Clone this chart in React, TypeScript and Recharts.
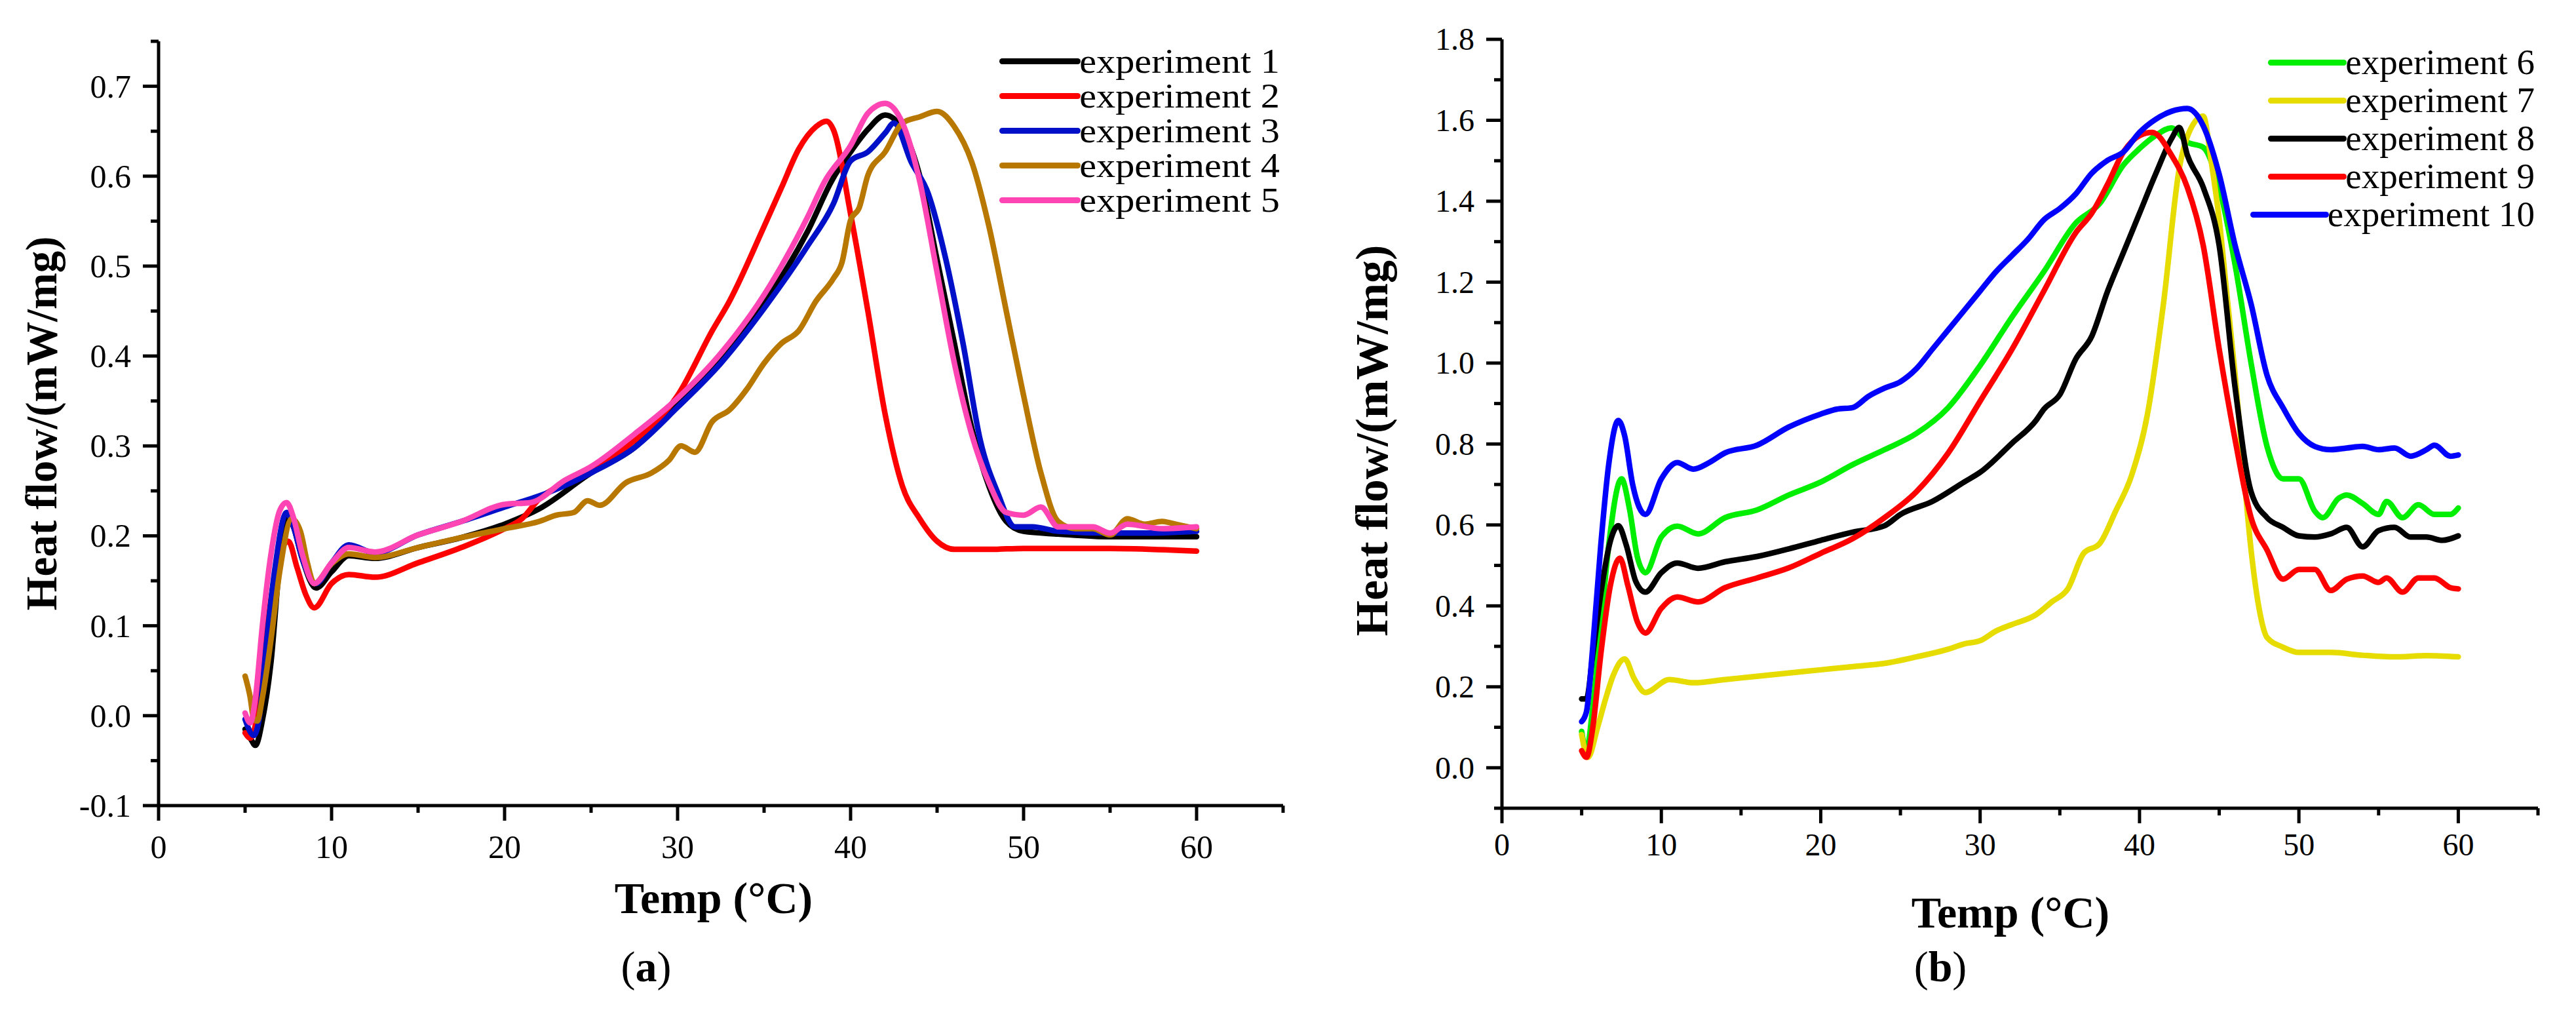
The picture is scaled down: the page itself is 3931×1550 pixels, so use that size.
import React from "react";
import { LineChart, Line, XAxis, YAxis } from "recharts";

const FONT = '"Liberation Serif", "Times New Roman", serif';

// shared temperature axis
const tempTicks = [0, 5, 10, 15, 20, 25, 30, 35, 40, 45, 50, 55, 60, 65];
const flowTicksA = [-0.1, -0.05, 0, 0.05, 0.1, 0.15, 0.2, 0.25, 0.3, 0.35, 0.4, 0.45, 0.5, 0.55, 0.6, 0.65, 0.7, 0.75];
const flowTicksB = [-0.1, 0, 0.1, 0.2, 0.3, 0.4, 0.5, 0.6, 0.7, 0.8, 0.9, 1.0, 1.1, 1.2, 1.3, 1.4, 1.5, 1.6, 1.7, 1.8];

// ---- panel (a) ----
const exp1Temp = [5, 5.3, 5.6, 6, 6.5, 7, 7.4, 7.8, 8.3, 9.1, 10, 11, 12.5, 15, 17.5, 20, 22, 25, 27.5, 30, 32.5, 35, 37.5, 39, 40, 41, 42, 43, 44, 45, 46, 47, 48, 49, 50, 52, 55, 60];
const exp1Flow = [-0.015, -0.025, -0.033, -0.005, 0.06, 0.17, 0.222, 0.21, 0.175, 0.142, 0.16, 0.178, 0.175, 0.187, 0.198, 0.213, 0.23, 0.27, 0.298, 0.349, 0.396, 0.458, 0.538, 0.598, 0.627, 0.652, 0.668, 0.652, 0.6, 0.507, 0.414, 0.32, 0.255, 0.216, 0.205, 0.202, 0.199, 0.199];

const exp2Temp = [5, 5.3, 5.6, 6, 6.5, 7, 7.5, 8, 8.5, 9, 10, 11, 12.5, 15, 17.5, 20, 21, 22, 24, 25, 27.5, 30, 32, 33, 35, 36, 37, 38, 38.6, 39, 40, 41, 42, 43, 44, 45, 46, 48, 50, 55, 60];
const exp2Flow = [-0.019, -0.025, -0.01, 0.05, 0.13, 0.18, 0.194, 0.165, 0.135, 0.12, 0.147, 0.157, 0.154, 0.17, 0.187, 0.208, 0.219, 0.241, 0.262, 0.273, 0.306, 0.356, 0.428, 0.461, 0.544, 0.587, 0.63, 0.655, 0.661, 0.652, 0.558, 0.45, 0.335, 0.255, 0.219, 0.194, 0.185, 0.185, 0.186, 0.186, 0.183];

const exp3Temp = [5, 5.5, 5.8, 6.2, 6.7, 7.4, 7.8, 8.3, 9.1, 10, 11, 12.5, 15, 17.5, 20, 22.5, 25, 27.5, 30, 32.5, 35, 37.5, 39, 40, 41, 42, 42.5, 43.5, 44.5, 45.5, 46.5, 47.5, 48.5, 49.5, 50.5, 52, 55, 57, 60];
const exp3Flow = [-0.004, -0.022, -0.005, 0.075, 0.16, 0.226, 0.21, 0.175, 0.147, 0.17, 0.19, 0.181, 0.201, 0.216, 0.232, 0.248, 0.27, 0.298, 0.343, 0.392, 0.453, 0.522, 0.569, 0.617, 0.627, 0.648, 0.659, 0.616, 0.58, 0.508, 0.414, 0.306, 0.248, 0.21, 0.21, 0.205, 0.203, 0.203, 0.205];

const exp4Temp = [5, 5.3, 5.5, 5.7, 6, 6.5, 7, 7.7, 8.2, 8.6, 9, 10, 11, 12.5, 15, 17.5, 20, 22, 23, 24, 24.8, 25.5, 27, 28.5, 29.5, 30.2, 31, 32, 33, 34, 35, 36, 37, 38, 39, 39.5, 40, 40.5, 41, 42, 43, 44, 45, 46, 47, 48, 49, 50, 51, 52, 53, 54, 55, 56, 57, 58, 59, 60];
const exp4Flow = [0.044, 0.02, -0.004, -0.006, 0.02, 0.085, 0.16, 0.219, 0.205, 0.17, 0.147, 0.169, 0.18, 0.176, 0.187, 0.198, 0.208, 0.216, 0.223, 0.226, 0.239, 0.234, 0.259, 0.27, 0.284, 0.3, 0.293, 0.327, 0.34, 0.363, 0.392, 0.414, 0.428, 0.461, 0.486, 0.504, 0.551, 0.565, 0.601, 0.627, 0.659, 0.666, 0.672, 0.655, 0.616, 0.544, 0.45, 0.356, 0.27, 0.216, 0.208, 0.208, 0.201, 0.219, 0.213, 0.216, 0.212, 0.208];

const exp5Temp = [5, 5.3, 5.6, 6, 6.5, 7, 7.4, 7.8, 8.3, 9, 10, 11, 12.5, 15, 17.5, 20, 21.5, 23.5, 25, 27.5, 30, 32.5, 35, 37.5, 38.5, 40, 41, 42, 43, 44, 45, 46, 47, 48, 49, 50, 51, 52, 54, 55, 56, 58, 60];
const exp5Flow = [0.003, -0.008, 0.02, 0.1, 0.18, 0.228, 0.237, 0.22, 0.18, 0.147, 0.17, 0.187, 0.182, 0.201, 0.216, 0.235, 0.237, 0.262, 0.277, 0.313, 0.353, 0.403, 0.468, 0.554, 0.594, 0.634, 0.67, 0.681, 0.659, 0.594, 0.493, 0.392, 0.313, 0.259, 0.226, 0.223, 0.232, 0.21, 0.21, 0.203, 0.213, 0.208, 0.21];

// ---- panel (b) ----
const exp6Temp = [5, 5.3, 5.7, 6.2, 6.7, 7.5, 8, 8.5, 9, 10, 11, 12.3, 14, 16, 18, 20, 22, 24, 26, 28, 30, 32, 34, 36, 37.5, 39, 40, 41, 42, 43, 44, 45, 46, 47, 48, 49, 50, 51, 51.5, 52.5, 53, 54, 55, 55.5, 56.5, 57.5, 58.5, 59.5, 60];
const exp6Flow = [0.09, 0.042, 0.15, 0.35, 0.55, 0.714, 0.64, 0.52, 0.482, 0.57, 0.597, 0.578, 0.618, 0.637, 0.674, 0.706, 0.749, 0.786, 0.826, 0.89, 0.994, 1.114, 1.226, 1.346, 1.394, 1.49, 1.53, 1.562, 1.581, 1.546, 1.533, 1.434, 1.242, 1.0, 0.794, 0.714, 0.714, 0.634, 0.618, 0.666, 0.674, 0.653, 0.626, 0.658, 0.618, 0.65, 0.626, 0.626, 0.642];

const exp7Temp = [5, 5.4, 6, 6.5, 7, 7.7, 8.3, 9, 10.5, 12, 14, 16, 18, 20, 22, 24, 26, 28, 29, 30, 31, 32, 33.5, 34.5, 35.5, 36.5, 37.5, 38.5, 39.5, 40.5, 41.5, 42.5, 43.2, 44, 44.5, 45, 45.5, 46, 46.5, 47, 47.5, 48, 49, 50, 52, 54, 56, 58, 60];
const exp7Flow = [0.082, 0.026, 0.1, 0.17, 0.23, 0.269, 0.22, 0.186, 0.218, 0.21, 0.218, 0.226, 0.234, 0.242, 0.25, 0.258, 0.274, 0.293, 0.306, 0.314, 0.338, 0.354, 0.378, 0.41, 0.442, 0.53, 0.554, 0.634, 0.722, 0.874, 1.146, 1.482, 1.578, 1.61, 1.498, 1.354, 1.162, 0.97, 0.746, 0.538, 0.394, 0.322, 0.298, 0.285, 0.285, 0.278, 0.274, 0.277, 0.274];

const exp8Temp = [5, 5.3, 5.7, 6.2, 6.8, 7.3, 7.8, 8.4, 9, 10, 11, 12.3, 14, 16, 18, 20, 22, 24, 25, 27, 29, 30, 32, 33.5, 34, 35, 36, 37, 38, 39, 40, 41, 42, 42.5, 43, 44, 45, 46, 47, 48, 49, 50, 51, 52, 53, 54, 55, 56, 57, 58, 59, 60];
const exp8Flow = [0.17, 0.17, 0.28, 0.43, 0.56, 0.598, 0.55, 0.46, 0.434, 0.482, 0.506, 0.493, 0.509, 0.522, 0.541, 0.562, 0.582, 0.598, 0.626, 0.658, 0.706, 0.73, 0.802, 0.858, 0.886, 0.922, 1.01, 1.066, 1.178, 1.274, 1.37, 1.466, 1.554, 1.582, 1.514, 1.434, 1.29, 0.938, 0.682, 0.618, 0.594, 0.573, 0.57, 0.578, 0.594, 0.546, 0.586, 0.594, 0.57, 0.57, 0.562, 0.573];

const exp9Temp = [5, 5.3, 5.7, 6.2, 6.8, 7.4, 7.9, 8.5, 9, 10, 11, 12.3, 14, 16, 18, 20, 22, 24, 26, 28, 30, 32, 34, 36, 37, 38, 39, 40, 40.8, 42, 43, 44, 45, 46, 47, 48, 49, 50, 51, 52, 53, 54, 55, 55.5, 56.5, 57.5, 58.5, 59.5, 60];
const exp9Flow = [0.042, 0.026, 0.1, 0.28, 0.45, 0.518, 0.45, 0.36, 0.333, 0.394, 0.422, 0.41, 0.445, 0.469, 0.494, 0.53, 0.566, 0.618, 0.682, 0.778, 0.906, 1.034, 1.178, 1.322, 1.37, 1.442, 1.522, 1.562, 1.57, 1.514, 1.434, 1.29, 1.034, 0.81, 0.618, 0.538, 0.466, 0.49, 0.49, 0.438, 0.466, 0.474, 0.458, 0.469, 0.434, 0.469, 0.469, 0.445, 0.442];

const exp10Temp = [5, 5.3, 5.7, 6.2, 6.7, 7.3, 7.7, 8.2, 9, 10, 11, 12, 13, 14, 16, 18, 20, 21, 22, 23, 24, 25, 26, 27, 28, 29, 30, 31, 32, 33, 34, 35, 36, 37, 38, 39, 40, 41, 42, 43, 44, 45, 46, 47, 48, 49, 50, 51, 52, 53, 54, 55, 56, 57, 58, 58.5, 59.5, 60];
const exp10Flow = [0.114, 0.138, 0.3, 0.55, 0.75, 0.858, 0.82, 0.7, 0.626, 0.714, 0.754, 0.738, 0.754, 0.778, 0.797, 0.842, 0.874, 0.886, 0.89, 0.918, 0.938, 0.954, 0.986, 1.034, 1.082, 1.13, 1.178, 1.226, 1.266, 1.306, 1.354, 1.382, 1.418, 1.469, 1.501, 1.522, 1.57, 1.602, 1.622, 1.629, 1.586, 1.466, 1.29, 1.146, 0.97, 0.89, 0.826, 0.794, 0.786, 0.79, 0.794, 0.786, 0.79, 0.77, 0.786, 0.797, 0.77, 0.773];

const seriesA = [
  { name: "experiment 1", color: "#000000", temp: exp1Temp, flow: exp1Flow },
  { name: "experiment 2", color: "#ff0000", temp: exp2Temp, flow: exp2Flow },
  { name: "experiment 3", color: "#0010c8", temp: exp3Temp, flow: exp3Flow },
  { name: "experiment 4", color: "#b87800", temp: exp4Temp, flow: exp4Flow },
  { name: "experiment 5", color: "#ff44b4", temp: exp5Temp, flow: exp5Flow },
];

const seriesB = [
  { name: "experiment 6", color: "#00ee00", temp: exp6Temp, flow: exp6Flow },
  { name: "experiment 7", color: "#e6dc00", temp: exp7Temp, flow: exp7Flow },
  { name: "experiment 8", color: "#000000", temp: exp8Temp, flow: exp8Flow },
  { name: "experiment 9", color: "#ff0000", temp: exp9Temp, flow: exp9Flow },
  { name: "experiment 10", color: "#0000ff", temp: exp10Temp, flow: exp10Flow },
];

const toPoints = (temp: number[], flow: number[]) => temp.map((t, i) => ({ t, v: flow[i] }));

function TempTick({ x, y, payload, fontSize, labelDy }: any) {
  const v = payload.value;
  const major = v % 10 === 0;
  return (
    <g>
      <line x1={x} x2={x} y1={y} y2={y + (major ? 23 : 11)} stroke="#000" strokeWidth={5} />
      {major && (
        <text x={x} y={y + labelDy} textAnchor="middle" fontSize={fontSize} fontFamily={FONT} fill="#000">
          {v}
        </text>
      )}
    </g>
  );
}

function FlowTick({ x, y, payload, fontSize, every }: any) {
  const v = payload.value;
  const k = Math.round(v * 10);
  const major = Math.abs(k - v * 10) < 1e-6 && k % every === 0;
  return (
    <g>
      <line x1={x - (major ? 24 : 12)} x2={x} y1={y} y2={y} stroke="#000" strokeWidth={5} />
      {major && (
        <text x={x - 42} y={y + fontSize * 0.34} textAnchor="end" fontSize={fontSize} fontFamily={FONT} fill="#000">
          {v.toFixed(1)}
        </text>
      )}
    </g>
  );
}

function Panel({ series, yDomain, yTicks, every, margin, tickFont, labelDy }: any) {
  return (
    <LineChart width={1965} height={1550} margin={margin} style={{ fontFamily: FONT }}>
      <XAxis
        dataKey="t"
        type="number"
        domain={[0, 65]}
        ticks={tempTicks}
        interval={0}
        height={200}
        tickSize={0}
        tickMargin={0}
        tickLine={false}
        axisLine={{ stroke: "#000", strokeWidth: 5 }}
        tick={(p: any) => <TempTick {...p} fontSize={tickFont} labelDy={labelDy} />}
        allowDataOverflow
      />
      <XAxis xAxisId="top" orientation="top" type="number" domain={[0, 65]} height={0} tick={false} tickLine={false} axisLine={{ stroke: "#000", strokeWidth: 5 }} />
      <YAxis
        type="number"
        domain={yDomain}
        ticks={yTicks}
        interval={0}
        width={200}
        tickSize={0}
        tickMargin={0}
        tickLine={false}
        axisLine={{ stroke: "#000", strokeWidth: 5 }}
        tick={(p: any) => <FlowTick {...p} fontSize={tickFont} every={every} />}
        allowDataOverflow
      />
      <YAxis yAxisId="right" orientation="right" type="number" domain={yDomain} width={0} tick={false} tickLine={false} axisLine={{ stroke: "#000", strokeWidth: 5 }} />
      {series.map((s: any) => (
        <Line
          key={s.name}
          data={toPoints(s.temp, s.flow)}
          dataKey="v"
          name={s.name}
          type="monotone"
          stroke={s.color}
          strokeWidth={8.5}
          strokeLinecap="round"
          strokeLinejoin="round"
          dot={false}
          activeDot={false}
          isAnimationActive={false}
        />
      ))}
    </LineChart>
  );
}

// legend drawn next to each panel; text may be widened a little like the original export
function SeriesLegend({ series, right, top, rowHeight, fontSize, stretch, swatch }: any) {
  const shift = (stretch - 1) * fontSize * 5.25;
  return (
    <div style={{ position: "absolute", left: right - 600, top, width: 600, display: "flex", flexDirection: "column", alignItems: "flex-end" }}>
      {series.map((s: any) => (
        <div key={s.name} style={{ height: rowHeight, display: "flex", alignItems: "center" }}>
          <div style={{ width: swatch, height: 9, borderRadius: 4.5, background: s.color, marginRight: -2 }} />
          <div
            style={{
              fontFamily: FONT,
              fontSize,
              height: rowHeight,
              lineHeight: `${rowHeight}px`,
              marginLeft: shift,
              color: "#000",
              whiteSpace: "nowrap",
              transform: `scaleX(${stretch})`,
              transformOrigin: "right center",
            }}
          >
            {s.name}
          </div>
        </div>
      ))}
    </div>
  );
}

const textBase: React.CSSProperties = { position: "absolute", fontFamily: FONT, color: "#000", whiteSpace: "nowrap", lineHeight: 1 };

export default function App() {
  return (
    <div style={{ position: "absolute", left: 0, top: 0, width: 3931, height: 1550, background: "#fff", overflow: "hidden" }}>
      <div style={{ position: "absolute", left: 0, top: 0 }}>
        <Panel
          series={seriesA}
          yDomain={[-0.1, 0.75]}
          yTicks={flowTicksA}
          every={1}
          margin={{ top: 63, right: 7, bottom: 121, left: 42 }}
          tickFont={50}
          labelDy={80}
        />
      </div>
      <div style={{ position: "absolute", left: 1965, top: 0 }}>
        <Panel
          series={seriesB}
          yDomain={[-0.1, 1.8]}
          yTicks={flowTicksB}
          every={2}
          margin={{ top: 60, right: 57, bottom: 117, left: 127 }}
          tickFont={48}
          labelDy={72}
        />
      </div>

      <SeriesLegend series={seriesA} right={1953} top={67} rowHeight={53} fontSize={52} stretch={1.12} swatch={124} />
      <SeriesLegend series={seriesB} right={3868} top={66} rowHeight={58} fontSize={55} stretch={1} swatch={120} />

      <div style={{ ...textBase, left: 63, top: 646, fontSize: 67, fontWeight: "bold", transform: "translate(-50%, -50%) rotate(-90deg)" }}>
        Heat flow/(mW/mg)
      </div>
      <div style={{ ...textBase, left: 2094, top: 672, fontSize: 70, fontWeight: "bold", transform: "translate(-50%, -50%) rotate(-90deg)" }}>
        Heat flow/(mW/mg)
      </div>

      <div style={{ ...textBase, left: 1089, top: 1336, fontSize: 68, fontWeight: "bold", transform: "translateX(-50%)" }}>Temp (°C)</div>
      <div style={{ ...textBase, left: 3068, top: 1358, fontSize: 68, fontWeight: "bold", transform: "translateX(-50%)" }}>Temp (°C)</div>

      <div style={{ ...textBase, left: 986, top: 1442, fontSize: 66, transform: "translateX(-50%)" }}>
        (<b>a</b>)
      </div>
      <div style={{ ...textBase, left: 2961, top: 1442, fontSize: 66, transform: "translateX(-50%)" }}>
        (<b>b</b>)
      </div>
    </div>
  );
}
